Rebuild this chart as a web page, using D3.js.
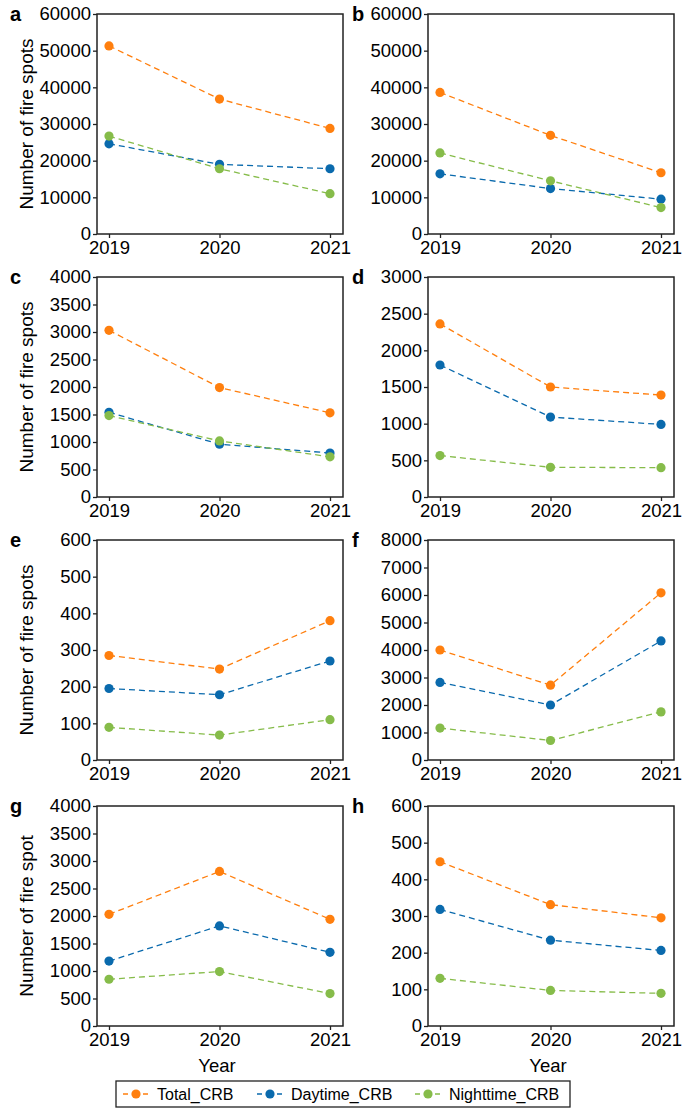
<!DOCTYPE html>
<html>
<head>
<meta charset="utf-8">
<script src="https://cdn.jsdelivr.net/npm/d3@7"></script>
<style>
body { margin: 0; background: #fff; }
text { font-family: "Liberation Sans", Arial, sans-serif; }
</style>
</head>
<body>
<script>
var width = 685,
    height = 1112;

var years = ["2019", "2020", "2021"];
var panelLetters = ["a", "b", "c", "d", "e", "f", "g", "h"];
var yMaxes = [60000, 60000, 4000, 3000, 600, 8000, 4000, 600];
var yTickSteps = [10000, 10000, 500, 500, 100, 1000, 500, 100];

var totalCRB = [
  [51300, 36800, 28800],
  [38600, 26900, 16700],
  [3030, 1990, 1530],
  [2360, 1500, 1390],
  [285, 248, 380],
  [4000, 2720, 6080],
  [2030, 2810, 1940],
  [448, 331, 295]
];
var daytimeCRB = [
  [24600, 19000, 17800],
  [16400, 12400, 9500],
  [1540, 960, 800],
  [1800, 1090, 990],
  [195, 178, 270],
  [2820, 2000, 4330],
  [1180, 1820, 1340],
  [318, 234, 206]
];
var nighttimeCRB = [
  [26700, 17800, 11000],
  [22100, 14500, 7200],
  [1480, 1020, 730],
  [565, 405, 400],
  [89, 68, 110],
  [1160, 710, 1750],
  [850, 990, 590],
  [130, 97, 89]
];
var seriesNames = ["Total_CRB", "Daytime_CRB", "Nighttime_CRB"];
var seriesColors = ["#ff7f0e", "#0a6aad", "#86bc4a"];

var svg = d3.select("body").append("svg")
    .attr("width", width)
    .attr("height", height);

var colLeft = [97, 428],
    panelW = 246,
    panelH = 220,
    rowTop = [14, 277, 540, 806];

panelLetters.forEach(function(letter, i) {
  var col = i % 2, row = Math.floor(i / 2);
  var g = svg.append("g")
      .attr("transform", "translate(" + colLeft[col] + "," + rowTop[row] + ")");

  var x = d3.scalePoint().domain(years).range([12, panelW - 13]);
  var y = d3.scaleLinear().domain([0, yMaxes[i]]).range([panelH, 0]);

  var yAxis = d3.axisLeft(y)
      .tickValues(d3.range(0, yMaxes[i] + 1, yTickSteps[i]))
      .tickFormat(d3.format("d"))
      .tickSize(4).tickPadding(2);
  var xAxis = d3.axisBottom(x).tickSize(4).tickPadding(3);

  var ya = g.append("g").call(yAxis);
  var xa = g.append("g").attr("transform", "translate(0," + panelH + ")").call(xAxis);
  [ya, xa].forEach(function(a) {
    a.attr("font-size", null).attr("font-family", null);
    a.select(".domain").remove();
    a.selectAll("line").attr("stroke", "#222").attr("stroke-width", 1.3);
    a.selectAll("text").style("font-size", "18.5px").attr("fill", "#000");
  });

  g.append("rect")
      .attr("width", panelW).attr("height", panelH)
      .attr("fill", "none").attr("stroke", "#222").attr("stroke-width", 1.5);

  var data = [totalCRB[i], daytimeCRB[i], nighttimeCRB[i]];
  var line = d3.line()
      .x(function(d, j) { return x(years[j]); })
      .y(function(d) { return y(d); });

  data.forEach(function(vals, s) {
    g.append("path")
        .attr("d", line(vals))
        .attr("fill", "none")
        .attr("stroke", seriesColors[s])
        .attr("stroke-width", 1.3)
        .attr("stroke-dasharray", "6,4");
  });
  data.forEach(function(vals, s) {
    g.selectAll(".dot" + s).data(vals).enter().append("circle")
        .attr("cx", function(d, j) { return x(years[j]); })
        .attr("cy", function(d) { return y(d); })
        .attr("r", 4.6)
        .attr("fill", seriesColors[s]);
  });

  g.append("text")
      .attr("x", col == 0 ? -87 : -76)
      .attr("y", 7)
      .style("font-size", "20px")
      .attr("font-weight", "bold")
      .text(letter);

  if (col == 0) {
    g.append("text")
        .attr("transform", "translate(-64," + (panelH / 2) + ") rotate(-90)")
        .attr("text-anchor", "middle")
        .style("font-size", "19px")
        .text(i == 6 ? "Number of fire spot" : "Number of fire spots");
  }
  if (row == 3) {
    g.append("text")
        .attr("x", panelW / 2 - 3)
        .attr("y", panelH + 46)
        .attr("text-anchor", "middle")
        .style("font-size", "18.5px")
        .text("Year");
  }
});

// legend
var legend = svg.append("g").attr("transform", "translate(116,1081)");
legend.append("rect")
    .attr("width", 454).attr("height", 26)
    .attr("fill", "#fff").attr("stroke", "#222").attr("stroke-width", 1.3);

var legendX = [20, 154, 312];
seriesNames.forEach(function(name, s) {
  var item = legend.append("g").attr("transform", "translate(" + legendX[s] + ",13)");
  item.append("line")
      .attr("x1", -13).attr("x2", 14)
      .attr("stroke", seriesColors[s]).attr("stroke-width", 1.4)
      .attr("stroke-dasharray", "5,5");
  item.append("circle").attr("r", 4.6).attr("fill", seriesColors[s]);
  item.append("text")
      .attr("x", 21).attr("y", 6)
      .style("font-size", "16px")
      .text(name);
});
</script>
</body>
</html>
